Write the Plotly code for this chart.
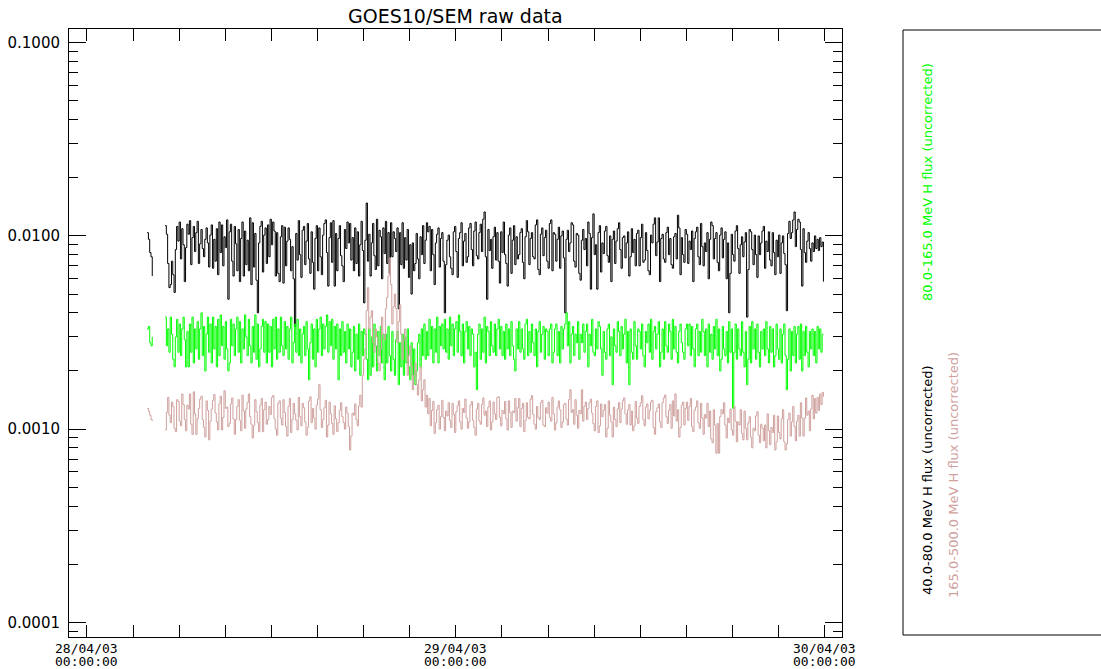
import plotly.graph_objects as go
from datetime import datetime, timedelta

# ---------------- data (flux values) ----------------
title_text = "GOES10/SEM raw data"
series_names = ["40.0-80.0 MeV H flux (uncorrected)",
                "80.0-165.0 MeV H flux (uncorrected)",
                "165.0-500.0 MeV H flux (uncorrected)"]
series_colors = ["#000000", "#00ff00", "#cfa19e"]

seg1_start = datetime(2003, 4, 28, 3, 55)
seg2_start = datetime(2003, 4, 28, 5, 5)
step_minutes = 5

black_seg1 = [0.0104, 0.0096, 0.0082, 0.0078, 0.0062]
green_seg1 = [0.0033, 0.0034, 0.0028, 0.0027, 0.0030]
pink_seg1 = [0.00128, 0.00124, 0.00118, 0.00112, 0.00110]

black_seg2 = [
    0.0113, 0.0102, 0.0072, 0.0054, 0.0056, 0.0074, 0.0063, 0.0051, 0.0085, 0.0112, 0.0094, 0.0118,
    0.0076, 0.0109, 0.0090, 0.0058, 0.0087, 0.0115, 0.0102, 0.0120, 0.0071, 0.0098, 0.0112, 0.0083,
    0.0104, 0.0119, 0.0072, 0.0091, 0.0108, 0.0086, 0.0078, 0.0096, 0.0110, 0.0092, 0.0069, 0.0101,
    0.0114, 0.0068, 0.0096, 0.0074, 0.0109, 0.0063, 0.0118, 0.0082, 0.0114, 0.0070, 0.0099, 0.0087,
    0.0121, 0.0047, 0.0105, 0.0115, 0.0074, 0.0062, 0.0112, 0.0091, 0.0066, 0.0108, 0.0058, 0.0097,
    0.0118, 0.0062, 0.0106, 0.0071, 0.0095, 0.0066, 0.0124, 0.0056, 0.0117, 0.0069, 0.0103, 0.0059,
    0.0040, 0.0092, 0.0112, 0.0119, 0.0065, 0.0101, 0.0110, 0.0072, 0.0114, 0.0078, 0.0122, 0.0090,
    0.0118, 0.0106, 0.0062, 0.0104, 0.0064, 0.0058, 0.0099, 0.0113, 0.0057, 0.0111, 0.0070, 0.0094,
    0.0110, 0.0096, 0.0066, 0.0088, 0.0060, 0.0034, 0.0103, 0.0075, 0.0120, 0.0080, 0.0061, 0.0107,
    0.0112, 0.0071, 0.0094, 0.0116, 0.0076, 0.0064, 0.0105, 0.0073, 0.0053, 0.0097, 0.0113, 0.0066,
    0.0110, 0.0078, 0.0063, 0.0101, 0.0116, 0.0121, 0.0082, 0.0055, 0.0098, 0.0117, 0.0073, 0.0120,
    0.0055, 0.0103, 0.0066, 0.0097, 0.0113, 0.0079, 0.0070, 0.0058, 0.0108, 0.0086, 0.0118, 0.0092,
    0.0116, 0.0075, 0.0098, 0.0066, 0.0110, 0.0072, 0.0105, 0.0062, 0.0090, 0.0119, 0.0084, 0.0045,
    0.0095, 0.0148, 0.0074, 0.0102, 0.0062, 0.0092, 0.0116, 0.0079, 0.0067, 0.0122, 0.0070, 0.0107,
    0.0099, 0.0060, 0.0110, 0.0081, 0.0119, 0.0072, 0.0104, 0.0064, 0.0117, 0.0078, 0.0105, 0.0097,
    0.0083, 0.0110, 0.0042, 0.0104, 0.0071, 0.0117, 0.0068, 0.0098, 0.0075, 0.0108, 0.0061, 0.0090,
    0.0050, 0.0092, 0.0066, 0.0072, 0.0103, 0.0076, 0.0060, 0.0099, 0.0080, 0.0113, 0.0072, 0.0095,
    0.0117, 0.0105, 0.0112, 0.0066, 0.0108, 0.0080, 0.0056, 0.0092, 0.0102, 0.0110, 0.0069, 0.0097,
    0.0104, 0.0074, 0.0040, 0.0071, 0.0095, 0.0101, 0.0078, 0.0068, 0.0063, 0.0105, 0.0112, 0.0083,
    0.0061, 0.0097, 0.0104, 0.0117, 0.0070, 0.0094, 0.0103, 0.0073, 0.0078, 0.0110, 0.0116, 0.0085,
    0.0070, 0.0106, 0.0118, 0.0079, 0.0076, 0.0104, 0.0115, 0.0083, 0.0122, 0.0133, 0.0078, 0.0047,
    0.0108, 0.0084, 0.0096, 0.0068, 0.0099, 0.0111, 0.0075, 0.0104, 0.0074, 0.0057, 0.0105, 0.0082,
    0.0118, 0.0080, 0.0072, 0.0055, 0.0101, 0.0110, 0.0064, 0.0095, 0.0113, 0.0071, 0.0099, 0.0076,
    0.0080, 0.0104, 0.0109, 0.0073, 0.0060, 0.0099, 0.0120, 0.0105, 0.0071, 0.0097, 0.0104, 0.0078,
    0.0076, 0.0114, 0.0121, 0.0067, 0.0063, 0.0102, 0.0110, 0.0079, 0.0098, 0.0107, 0.0074, 0.0068,
    0.0116, 0.0121, 0.0066, 0.0104, 0.0102, 0.0074, 0.0096, 0.0111, 0.0068, 0.0100, 0.0106, 0.0077,
    0.0040, 0.0096, 0.0107, 0.0083, 0.0092, 0.0117, 0.0114, 0.0074, 0.0069, 0.0103, 0.0101, 0.0064,
    0.0059, 0.0095, 0.0108, 0.0085, 0.0097, 0.0070, 0.0118, 0.0103, 0.0053, 0.0098, 0.0130, 0.0080,
    0.0090, 0.0053, 0.0104, 0.0113, 0.0065, 0.0092, 0.0081, 0.0106, 0.0112, 0.0079, 0.0073, 0.0100,
    0.0058, 0.0096, 0.0106, 0.0072, 0.0094, 0.0109, 0.0117, 0.0085, 0.0068, 0.0098, 0.0100, 0.0077,
    0.0092, 0.0105, 0.0062, 0.0078, 0.0109, 0.0082, 0.0096, 0.0070, 0.0103, 0.0107, 0.0070, 0.0098,
    0.0115, 0.0073, 0.0075, 0.0104, 0.0084, 0.0066, 0.0063, 0.0101, 0.0092, 0.0115, 0.0124, 0.0079,
    0.0093, 0.0124, 0.0058, 0.0097, 0.0102, 0.0076, 0.0073, 0.0104, 0.0111, 0.0080, 0.0097, 0.0071,
    0.0068, 0.0099, 0.0103, 0.0076, 0.0128, 0.0110, 0.0063, 0.0098, 0.0080, 0.0073, 0.0108, 0.0102,
    0.0072, 0.0094, 0.0085, 0.0106, 0.0058, 0.0097, 0.0105, 0.0111, 0.0078, 0.0071, 0.0116, 0.0088,
    0.0070, 0.0092, 0.0083, 0.0104, 0.0060, 0.0096, 0.0118, 0.0113, 0.0076, 0.0097, 0.0104, 0.0073,
    0.0066, 0.0101, 0.0110, 0.0077, 0.0096, 0.0105, 0.0060, 0.0092, 0.0040, 0.0064, 0.0102, 0.0080,
    0.0074, 0.0106, 0.0113, 0.0086, 0.0064, 0.0090, 0.0099, 0.0078, 0.0093, 0.0104, 0.0038, 0.0067,
    0.0108, 0.0105, 0.0085, 0.0071, 0.0101, 0.0080, 0.0061, 0.0100, 0.0080, 0.0092, 0.0106, 0.0112,
    0.0068, 0.0094, 0.0083, 0.0105, 0.0075, 0.0070, 0.0104, 0.0082, 0.0063, 0.0095, 0.0078, 0.0101,
    0.0064, 0.0092, 0.0100, 0.0081, 0.0071, 0.0041, 0.0103, 0.0119, 0.0097, 0.0104, 0.0121, 0.0133,
    0.0088, 0.0108, 0.0122, 0.0118, 0.0085, 0.0055, 0.0109, 0.0082, 0.0073, 0.0094, 0.0104, 0.0086,
    0.0074, 0.0092, 0.0083, 0.0100, 0.0086, 0.0096, 0.0084, 0.0098, 0.0088, 0.0093, 0.0058,
]

green_seg2 = [
    0.0038, 0.0027, 0.0033, 0.0025, 0.0038, 0.0031, 0.0023, 0.0021, 0.0030, 0.0037, 0.0025, 0.0035,
    0.0024, 0.0033, 0.0038, 0.0029, 0.0021, 0.0032, 0.0021, 0.0035, 0.0025, 0.0038, 0.0022, 0.0033,
    0.0026, 0.0036, 0.0023, 0.0033, 0.0040, 0.0024, 0.0034, 0.0020, 0.0031, 0.0038, 0.0025, 0.0035,
    0.0022, 0.0038, 0.0026, 0.0034, 0.0021, 0.0037, 0.0024, 0.0039, 0.0027, 0.0034, 0.0023, 0.0036,
    0.0026, 0.0020, 0.0022, 0.0037, 0.0027, 0.0035, 0.0024, 0.0033, 0.0038, 0.0025, 0.0036, 0.0022,
    0.0033, 0.0026, 0.0039, 0.0030, 0.0024, 0.0037, 0.0027, 0.0022, 0.0034, 0.0025, 0.0039, 0.0023,
    0.0035, 0.0021, 0.0026, 0.0034, 0.0037, 0.0025, 0.0036, 0.0022, 0.0035, 0.0025, 0.0034, 0.0021,
    0.0037, 0.0026, 0.0038, 0.0023, 0.0033, 0.0025, 0.0038, 0.0027, 0.0024, 0.0036, 0.0026, 0.0034,
    0.0023, 0.0033, 0.0038, 0.0022, 0.0028, 0.0035, 0.0025, 0.0037, 0.0024, 0.0033, 0.0022, 0.0031,
    0.0034, 0.0024, 0.0036, 0.0026, 0.0018, 0.0028, 0.0035, 0.0023, 0.0033, 0.0021, 0.0037, 0.0025,
    0.0033, 0.0038, 0.0024, 0.0035, 0.0026, 0.0034, 0.0039, 0.0025, 0.0036, 0.0027, 0.0037, 0.0023,
    0.0034, 0.0026, 0.0035, 0.0018, 0.0033, 0.0024, 0.0036, 0.0025, 0.0032, 0.0022, 0.0035, 0.0026,
    0.0033, 0.0021, 0.0025, 0.0034, 0.0020, 0.0031, 0.0023, 0.0035, 0.0019, 0.0032, 0.0024, 0.0033,
    0.0031, 0.0023, 0.0018, 0.0033, 0.0019, 0.0030, 0.0021, 0.0035, 0.0027, 0.0020, 0.0032, 0.0024,
    0.0034, 0.0022, 0.0031, 0.0018, 0.0031, 0.0022, 0.0034, 0.0024, 0.0020, 0.0032, 0.0023, 0.0019,
    0.0029, 0.0032, 0.0017, 0.0028, 0.0021, 0.0031, 0.0019, 0.0030, 0.0022, 0.0033, 0.0021, 0.0018,
    0.0028, 0.0019, 0.0026, 0.0017, 0.0020, 0.0028, 0.0031, 0.0021, 0.0033, 0.0024, 0.0035, 0.0023,
    0.0032, 0.0024, 0.0037, 0.0026, 0.0034, 0.0022, 0.0033, 0.0025, 0.0038, 0.0022, 0.0034, 0.0027,
    0.0035, 0.0026, 0.0037, 0.0025, 0.0033, 0.0023, 0.0038, 0.0027, 0.0035, 0.0024, 0.0033, 0.0036,
    0.0025, 0.0039, 0.0032, 0.0024, 0.0035, 0.0022, 0.0032, 0.0036, 0.0026, 0.0034, 0.0024, 0.0033,
    0.0031, 0.0021, 0.0025, 0.0016, 0.0031, 0.0035, 0.0023, 0.0033, 0.0025, 0.0038, 0.0022, 0.0034,
    0.0032, 0.0024, 0.0036, 0.0027, 0.0025, 0.0035, 0.0024, 0.0033, 0.0037, 0.0026, 0.0034, 0.0024,
    0.0032, 0.0023, 0.0035, 0.0026, 0.0033, 0.0024, 0.0036, 0.0027, 0.0023, 0.0020, 0.0033, 0.0026,
    0.0036, 0.0025, 0.0033, 0.0026, 0.0023, 0.0035, 0.0037, 0.0024, 0.0032, 0.0025, 0.0035, 0.0028,
    0.0024, 0.0033, 0.0021, 0.0032, 0.0036, 0.0025, 0.0031, 0.0034, 0.0023, 0.0033, 0.0032, 0.0024,
    0.0033, 0.0035, 0.0022, 0.0025, 0.0033, 0.0035, 0.0024, 0.0032, 0.0022, 0.0034, 0.0026, 0.0033,
    0.0035, 0.0040, 0.0027, 0.0036, 0.0022, 0.0031, 0.0034, 0.0024, 0.0031, 0.0028, 0.0036, 0.0023,
    0.0031, 0.0028, 0.0035, 0.0025, 0.0032, 0.0035, 0.0021, 0.0031, 0.0027, 0.0037, 0.0025, 0.0024,
    0.0033, 0.0026, 0.0036, 0.0034, 0.0026, 0.0019, 0.0032, 0.0025, 0.0023, 0.0033, 0.0035, 0.0024,
    0.0030, 0.0017, 0.0033, 0.0027, 0.0025, 0.0036, 0.0032, 0.0024, 0.0034, 0.0026, 0.0031, 0.0037,
    0.0022, 0.0032, 0.0017, 0.0033, 0.0025, 0.0023, 0.0036, 0.0027, 0.0023, 0.0033, 0.0032, 0.0026,
    0.0035, 0.0024, 0.0021, 0.0032, 0.0028, 0.0035, 0.0025, 0.0037, 0.0023, 0.0032, 0.0034, 0.0026,
    0.0031, 0.0036, 0.0021, 0.0025, 0.0033, 0.0023, 0.0036, 0.0027, 0.0025, 0.0035, 0.0032, 0.0023,
    0.0037, 0.0026, 0.0034, 0.0025, 0.0022, 0.0032, 0.0035, 0.0028, 0.0025, 0.0023, 0.0033, 0.0035,
    0.0027, 0.0035, 0.0024, 0.0034, 0.0026, 0.0021, 0.0033, 0.0035, 0.0024, 0.0032, 0.0025, 0.0037,
    0.0032, 0.0024, 0.0033, 0.0021, 0.0035, 0.0025, 0.0031, 0.0023, 0.0034, 0.0026, 0.0037, 0.0024,
    0.0033, 0.0020, 0.0023, 0.0034, 0.0026, 0.0024, 0.0032, 0.0022, 0.0036, 0.0025, 0.0033, 0.00128,
    0.0025, 0.0035, 0.0023, 0.0033, 0.0026, 0.0024, 0.0036, 0.0025, 0.0021, 0.0032, 0.0017, 0.0023,
    0.0034, 0.0022, 0.0036, 0.0026, 0.0033, 0.0023, 0.0035, 0.0025, 0.0021, 0.0032, 0.0026, 0.0033,
    0.0024, 0.0036, 0.0026, 0.0022, 0.0034, 0.0025, 0.0033, 0.0021, 0.0024, 0.0035, 0.0026, 0.0023,
    0.0033, 0.0022, 0.0031, 0.0035, 0.0024, 0.0016, 0.0023, 0.0033, 0.0020, 0.0032, 0.0024, 0.0034,
    0.0022, 0.0031, 0.0034, 0.0023, 0.0035, 0.0020, 0.0032, 0.0024, 0.0034, 0.0025, 0.0021, 0.0032,
    0.0026, 0.0033, 0.0024, 0.0032, 0.0022, 0.0034, 0.0026, 0.0033, 0.0025, 0.0031, 0.0031,
]

pink_seg2 = [
    0.00099, 0.00122, 0.00146, 0.00118, 0.00108, 0.00138, 0.00131, 0.00101, 0.00097, 0.00142, 0.00139, 0.00110,
    0.00104, 0.00152, 0.00134, 0.00112, 0.00098, 0.00133, 0.00127, 0.00152, 0.00106, 0.00094, 0.00156, 0.00120,
    0.00094, 0.00113, 0.00128, 0.00143, 0.00148, 0.00112, 0.00102, 0.00091, 0.00140, 0.00125, 0.00088, 0.00110,
    0.00127, 0.00141, 0.00151, 0.00121, 0.00109, 0.00099, 0.00135, 0.00148, 0.00099, 0.00115, 0.00158, 0.00128,
    0.00130, 0.00103, 0.00107, 0.00135, 0.00145, 0.00113, 0.00094, 0.00112, 0.00131, 0.00142, 0.00111, 0.00098,
    0.00150, 0.00124, 0.00101, 0.00127, 0.00137, 0.00152, 0.00116, 0.00106, 0.00090, 0.00104, 0.00142, 0.00123,
    0.00108, 0.00097, 0.00133, 0.00144, 0.00097, 0.00126, 0.00138, 0.00106, 0.00112, 0.00131, 0.00119, 0.00146,
    0.00149, 0.00113, 0.00100, 0.00093, 0.00136, 0.00140, 0.00114, 0.00105, 0.00142, 0.00122, 0.00103, 0.00092,
    0.00131, 0.00144, 0.00096, 0.00112, 0.00136, 0.00120, 0.00111, 0.00099, 0.00146, 0.00116, 0.00104, 0.00136,
    0.00129, 0.00109, 0.00093, 0.00102, 0.00140, 0.00147, 0.00108, 0.00128, 0.00114, 0.00100, 0.00133, 0.00143,
    0.00170, 0.00126, 0.00102, 0.00112, 0.00129, 0.00141, 0.00091, 0.00105, 0.00138, 0.00120, 0.00107, 0.00094,
    0.00132, 0.00113, 0.00097, 0.00108, 0.00125, 0.00137, 0.00116, 0.00108, 0.00100, 0.00130, 0.00121, 0.00103,
    0.00078, 0.00092, 0.00121, 0.00118, 0.00135, 0.00112, 0.00104, 0.00132, 0.00150, 0.00130, 0.00190, 0.00230,
    0.00260, 0.00410, 0.00540, 0.00330, 0.00380, 0.00410, 0.00280, 0.00250, 0.00330, 0.00300, 0.00220, 0.00200,
    0.00260, 0.00380, 0.00310, 0.00290, 0.00420, 0.00480, 0.00620, 0.00770, 0.00560, 0.00350, 0.00430, 0.00500,
    0.00420, 0.00280, 0.00360, 0.00440, 0.00310, 0.00230, 0.00290, 0.00330, 0.00260, 0.00190, 0.00240, 0.00270,
    0.00210, 0.00160, 0.00190, 0.00220, 0.00170, 0.00150, 0.00180, 0.00210, 0.00140, 0.00160, 0.00180, 0.00130,
    0.00150, 0.00120, 0.00144, 0.00104, 0.00125, 0.00139, 0.00095, 0.00108, 0.00126, 0.00133, 0.00100, 0.00116,
    0.00141, 0.00115, 0.00098, 0.00124, 0.00117, 0.00137, 0.00111, 0.00102, 0.00136, 0.00119, 0.00096, 0.00123,
    0.00132, 0.00140, 0.00109, 0.00100, 0.00128, 0.00122, 0.00143, 0.00114, 0.00101, 0.00109, 0.00133, 0.00139,
    0.00111, 0.00102, 0.00093, 0.00127, 0.00136, 0.00110, 0.00106, 0.00134, 0.00145, 0.00118, 0.00124, 0.00103,
    0.00130, 0.00140, 0.00099, 0.00109, 0.00138, 0.00120, 0.00112, 0.00146, 0.00147, 0.00115, 0.00104, 0.00125,
    0.00120, 0.00139, 0.00113, 0.00099, 0.00140, 0.00122, 0.00102, 0.00124, 0.00122, 0.00144, 0.00110, 0.00129,
    0.00144, 0.00103, 0.00128, 0.00136, 0.00097, 0.00111, 0.00137, 0.00115, 0.00113, 0.00143, 0.00149, 0.00119,
    0.00106, 0.00100, 0.00131, 0.00115, 0.00112, 0.00137, 0.00141, 0.00105, 0.00103, 0.00129, 0.00121, 0.00138,
    0.00115, 0.00110, 0.00146, 0.00120, 0.00099, 0.00108, 0.00130, 0.00140, 0.00126, 0.00102, 0.00109, 0.00134,
    0.00136, 0.00113, 0.00105, 0.00142, 0.00160, 0.00122, 0.00126, 0.00106, 0.00142, 0.00118, 0.00101, 0.00125,
    0.00120, 0.00160, 0.00110, 0.00131, 0.00138, 0.00112, 0.00128, 0.00137, 0.00143, 0.00121, 0.00107, 0.00098,
    0.00131, 0.00140, 0.00096, 0.00104, 0.00135, 0.00116, 0.00125, 0.00134, 0.00091, 0.00101, 0.00140, 0.00118,
    0.00109, 0.00091, 0.00130, 0.00112, 0.00103, 0.00127, 0.00137, 0.00108, 0.00127, 0.00140, 0.00145, 0.00120,
    0.00106, 0.00126, 0.00134, 0.00105, 0.00124, 0.00098, 0.00104, 0.00139, 0.00114, 0.00107, 0.00131, 0.00137,
    0.00149, 0.00112, 0.00104, 0.00130, 0.00135, 0.00113, 0.00125, 0.00138, 0.00141, 0.00102, 0.00094, 0.00123,
    0.00129, 0.00135, 0.00109, 0.00102, 0.00137, 0.00145, 0.00150, 0.00116, 0.00107, 0.00125, 0.00134, 0.00101,
    0.00140, 0.00117, 0.00152, 0.00110, 0.00126, 0.00091, 0.00102, 0.00133, 0.00138, 0.00105, 0.00128, 0.00138,
    0.00111, 0.00131, 0.00144, 0.00103, 0.00097, 0.00125, 0.00130, 0.00140, 0.00108, 0.00101, 0.00136, 0.00114,
    0.00094, 0.00119, 0.00114, 0.00136, 0.00103, 0.00124, 0.00089, 0.00085, 0.00126, 0.00105, 0.00075, 0.00107,
    0.00075, 0.00116, 0.00126, 0.00120, 0.00137, 0.00105, 0.00090, 0.00114, 0.00108, 0.00127, 0.00099, 0.00093,
    0.00131, 0.00110, 0.00086, 0.00109, 0.00105, 0.00126, 0.00095, 0.00088, 0.00124, 0.00101, 0.00088, 0.00108,
    0.00116, 0.00091, 0.00080, 0.00101, 0.00098, 0.00117, 0.00123, 0.00093, 0.00085, 0.00106, 0.00101, 0.00087,
    0.00105, 0.00080, 0.00120, 0.00098, 0.00083, 0.00102, 0.00096, 0.00118, 0.00078, 0.00086, 0.00117, 0.00096,
    0.00089, 0.00113, 0.00126, 0.00086, 0.00078, 0.00084, 0.00112, 0.00121, 0.00092, 0.00109, 0.00131, 0.00103,
    0.00087, 0.00110, 0.00118, 0.00092, 0.00137, 0.00114, 0.00092, 0.00114, 0.00145, 0.00118, 0.00124, 0.00098,
    0.00127, 0.00150, 0.00113, 0.00144, 0.00121, 0.00146, 0.00125, 0.00152, 0.00134, 0.00155, 0.00147,
]

x_tick_dates = [datetime(2003, 4, 28), datetime(2003, 4, 29), datetime(2003, 4, 30)]
x_tick_line1 = ["28/04/03", "29/04/03", "30/04/03"]
x_tick_line2 = ["00:00:00", "00:00:00", "00:00:00"]

# ---------------- layout geometry (pixels) ----------------
W, H = 1101, 669
PL, PR, PT, PB = 69, 842, 29, 637   # plot area


def px_x(p):
    return (p - PL) / (PR - PL)


def px_y(p):
    return (PB - p) / (PB - PT)


def make_xy(seg1, seg2):
    xs = [seg1_start + timedelta(minutes=step_minutes * i) for i in range(len(seg1))]
    ys = list(seg1)
    xs.append(seg1_start + timedelta(minutes=step_minutes * (len(seg1) + 1)))
    ys.append(None)
    xs += [seg2_start + timedelta(minutes=step_minutes * i) for i in range(len(seg2))]
    ys += list(seg2)
    return xs, ys


fig = go.Figure()
for name, color, s1, s2 in zip(series_names, series_colors,
                               [black_seg1, green_seg1, pink_seg1],
                               [black_seg2, green_seg2, pink_seg2]):
    xs, ys = make_xy(s1, s2)
    fig.add_trace(go.Scatter(x=xs, y=ys, mode="lines", name=name,
                             line=dict(color=color, width=1, shape="hv"),
                             connectgaps=False, hoverinfo="skip"))

fig.update_layout(
    width=W, height=H,
    margin=dict(l=PL, r=W - PR, t=PT, b=H - PB, pad=0, autoexpand=False),
    plot_bgcolor="white", paper_bgcolor="white",
    showlegend=False, hovermode=False,
    font=dict(family="DejaVu Sans", color="black", size=14),
)

fig.update_xaxes(
    type="date", automargin=False,
    range=[datetime(2003, 4, 27, 22, 50), datetime(2003, 4, 30, 1, 7, 30)],
    tickmode="linear", tick0="2003-04-28", dtick=3 * 3600 * 1000,
    ticks="inside", ticklen=12, tickcolor="black", tickwidth=1,
    showticklabels=False, showline=True, linecolor="black", linewidth=1,
    mirror="ticks", showgrid=False, zeroline=False,
)

fig.update_yaxes(
    type="log", automargin=False, range=[-4.076, -0.929],
    tickmode="linear", tick0=0, dtick=1, tickformat=".4f",
    ticks="inside", ticklen=17, tickcolor="black", tickwidth=1,
    tickfont=dict(size=15, family="DejaVu Sans", color="black"),
    ticklabelstandoff=5,
    showline=True, linecolor="black", linewidth=1,
    mirror="ticks", showgrid=False, zeroline=False,
    minor=dict(ticks="inside", ticklen=9, dtick="D1", tickcolor="black",
               tickwidth=1, showgrid=False),
)

annotations = []
annotations.append(dict(text=title_text, x=px_x((PL + PR) / 2), y=px_y(16),
                        xref="paper", yref="paper", showarrow=False,
                        xanchor="center", yanchor="middle",
                        font=dict(size=19, family="DejaVu Sans", color="black")))
for d, l1, l2 in zip(x_tick_dates, x_tick_line1, x_tick_line2):
    annotations.append(dict(text=l1, x=d, y=px_y(648), xref="x", yref="paper",
                            showarrow=False, xanchor="center", yanchor="middle",
                            font=dict(size=13, family="DejaVu Sans Mono", color="black")))
    annotations.append(dict(text=l2, x=d, y=px_y(661.5), xref="x", yref="paper",
                            showarrow=False, xanchor="center", yanchor="middle",
                            font=dict(size=13, family="DejaVu Sans Mono", color="black")))

legend_pos = [(927, 597), (927, 303), (953, 600)]   # (x center, lower end)
for name, color, (lx, ly) in zip(series_names, series_colors, legend_pos):
    annotations.append(dict(text=name, x=px_x(lx), y=px_y(ly), xref="paper", yref="paper",
                            showarrow=False, textangle=-90,
                            xanchor="center", yanchor="bottom",
                            font=dict(size=13, family="DejaVu Sans", color=color)))
fig.update_layout(annotations=annotations)

fig.add_shape(type="rect", xref="paper", yref="paper",
              x0=px_x(903), x1=px_x(1115), y0=px_y(635), y1=px_y(30),
              line=dict(color="black", width=1), fillcolor="rgba(0,0,0,0)")

fig.write_html("out.html", config={"displayModeBar": False, "staticPlot": True},
               post_script="document.body.style.margin='0px';")
